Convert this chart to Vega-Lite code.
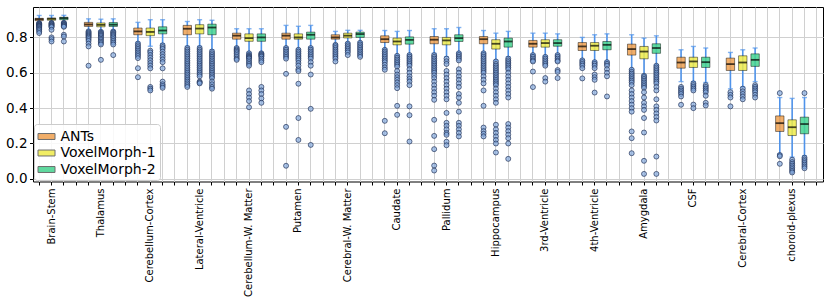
{
"$schema": "https://vega.github.io/schema/vega-lite/v6.json",
"width": 790,
"height": 174.5,
"autosize": "none",
"padding": {"left": 33, "top": 7, "right": 7, "bottom": 120.5},
"config": {
  "font": "DejaVu Sans",
  "view": {"stroke": "#000", "strokeWidth": 1},
  "axis": {"domain": false, "grid": true, "gridColor": "#d0d0d0", "gridWidth": 1, "tickColor": "#000", "tickSize": 3.5, "labelColor": "#000", "labelFont": "DejaVu Sans"}
},
"datasets": {"boxes": [
{"s":"Brain-Stem","m":"ANTs","lo":0.884,"q1":0.895,"med":0.903,"q3":0.908,"hi":0.924,"o":[0.881,0.878,0.875,0.872,0.868,0.865,0.862,0.858,0.853,0.848,0.843,0.835,0.825]},
{"s":"Brain-Stem","m":"VoxelMorph-1","lo":0.885,"q1":0.897,"med":0.905,"q3":0.91,"hi":0.924,"o":[0.882,0.878,0.874,0.87,0.866,0.862,0.858,0.843,0.8,0.79,0.777]},
{"s":"Brain-Stem","m":"VoxelMorph-2","lo":0.886,"q1":0.9,"med":0.909,"q3":0.914,"hi":0.925,"o":[0.883,0.879,0.875,0.871,0.867,0.863,0.86,0.815,0.805,0.777]},
{"s":"Thalamus","m":"ANTs","lo":0.84,"q1":0.862,"med":0.873,"q3":0.885,"hi":0.905,"o":[0.834,0.828,0.822,0.816,0.81,0.804,0.798,0.79,0.78,0.765,0.749,0.64]},
{"s":"Thalamus","m":"VoxelMorph-1","lo":0.838,"q1":0.86,"med":0.871,"q3":0.882,"hi":0.903,"o":[0.832,0.826,0.82,0.814,0.808,0.8,0.792,0.785,0.776,0.768,0.76,0.673]},
{"s":"Thalamus","m":"VoxelMorph-2","lo":0.84,"q1":0.862,"med":0.872,"q3":0.884,"hi":0.905,"o":[0.833,0.827,0.82,0.814,0.807,0.8,0.79,0.78,0.77,0.76,0.7]},
{"s":"Cerebellum-Cortex","m":"ANTs","lo":0.772,"q1":0.815,"med":0.834,"q3":0.853,"hi":0.885,"o":[0.765,0.755,0.745,0.735,0.725,0.715,0.705,0.695,0.683,0.626,0.575]},
{"s":"Cerebellum-Cortex","m":"VoxelMorph-1","lo":0.75,"q1":0.81,"med":0.831,"q3":0.853,"hi":0.9,"o":[0.725,0.715,0.7,0.685,0.67,0.655,0.64,0.625,0.52,0.51,0.5]},
{"s":"Cerebellum-Cortex","m":"VoxelMorph-2","lo":0.765,"q1":0.82,"med":0.839,"q3":0.86,"hi":0.9,"o":[0.755,0.745,0.735,0.72,0.705,0.69,0.675,0.66,0.625,0.55,0.535,0.525,0.515]},
{"s":"Lateral-Ventricle","m":"ANTs","lo":0.75,"q1":0.815,"med":0.849,"q3":0.868,"hi":0.89,"o":[0.74,0.73,0.72,0.71,0.7,0.69,0.68,0.67,0.66,0.65,0.64,0.63,0.62,0.61,0.6,0.59,0.58,0.57,0.56,0.55,0.54,0.53,0.52]},
{"s":"Lateral-Ventricle","m":"VoxelMorph-1","lo":0.75,"q1":0.82,"med":0.85,"q3":0.872,"hi":0.9,"o":[0.74,0.73,0.72,0.71,0.7,0.69,0.68,0.67,0.66,0.65,0.64,0.63,0.62,0.61,0.6,0.59,0.58,0.55,0.545,0.54]},
{"s":"Lateral-Ventricle","m":"VoxelMorph-2","lo":0.73,"q1":0.815,"med":0.856,"q3":0.875,"hi":0.897,"o":[0.72,0.71,0.7,0.69,0.68,0.67,0.66,0.65,0.64,0.63,0.62,0.61,0.6,0.59,0.58,0.57,0.55,0.535,0.52,0.51]},
{"s":"Cerebellum-W. Matter","m":"ANTs","lo":0.745,"q1":0.79,"med":0.81,"q3":0.824,"hi":0.849,"o":[0.74,0.732,0.725,0.718,0.71,0.7,0.69,0.68,0.673]},
{"s":"Cerebellum-W. Matter","m":"VoxelMorph-1","lo":0.715,"q1":0.778,"med":0.796,"q3":0.82,"hi":0.849,"o":[0.71,0.7,0.695,0.69,0.685,0.68,0.67,0.66,0.65,0.64,0.5,0.48,0.46,0.44,0.405]},
{"s":"Cerebellum-W. Matter","m":"VoxelMorph-2","lo":0.715,"q1":0.778,"med":0.8,"q3":0.82,"hi":0.849,"o":[0.71,0.705,0.7,0.695,0.69,0.68,0.67,0.66,0.52,0.5,0.48,0.455,0.43]},
{"s":"Putamen","m":"ANTs","lo":0.745,"q1":0.79,"med":0.81,"q3":0.824,"hi":0.868,"o":[0.74,0.73,0.72,0.71,0.7,0.69,0.68,0.594,0.294,0.074]},
{"s":"Putamen","m":"VoxelMorph-1","lo":0.735,"q1":0.79,"med":0.8,"q3":0.82,"hi":0.863,"o":[0.73,0.72,0.71,0.7,0.69,0.68,0.67,0.655,0.64,0.62,0.61,0.538,0.344,0.22]},
{"s":"Putamen","m":"VoxelMorph-2","lo":0.745,"q1":0.79,"med":0.815,"q3":0.83,"hi":0.868,"o":[0.74,0.73,0.72,0.71,0.7,0.69,0.68,0.66,0.64,0.59,0.396,0.192]},
{"s":"Cerebral-W. Matter","m":"ANTs","lo":0.762,"q1":0.79,"med":0.8,"q3":0.815,"hi":0.834,"o":[0.758,0.75,0.74,0.73,0.72,0.71,0.7,0.69,0.68,0.664]},
{"s":"Cerebral-W. Matter","m":"VoxelMorph-1","lo":0.77,"q1":0.797,"med":0.81,"q3":0.824,"hi":0.84,"o":[0.765,0.755,0.745,0.735,0.725,0.715,0.7]},
{"s":"Cerebral-W. Matter","m":"VoxelMorph-2","lo":0.775,"q1":0.8,"med":0.819,"q3":0.83,"hi":0.84,"o":[0.77,0.76,0.75,0.74,0.73,0.72,0.71,0.7,0.69]},
{"s":"Caudate","m":"ANTs","lo":0.735,"q1":0.771,"med":0.79,"q3":0.809,"hi":0.839,"o":[0.73,0.72,0.71,0.7,0.69,0.68,0.67,0.66,0.645,0.63,0.617,0.328,0.258]},
{"s":"Caudate","m":"VoxelMorph-1","lo":0.7,"q1":0.758,"med":0.777,"q3":0.796,"hi":0.834,"o":[0.696,0.685,0.675,0.665,0.655,0.645,0.635,0.61,0.59,0.575,0.56,0.545,0.53,0.513,0.413,0.362]},
{"s":"Caudate","m":"VoxelMorph-2","lo":0.705,"q1":0.762,"med":0.786,"q3":0.803,"hi":0.839,"o":[0.7,0.69,0.68,0.67,0.66,0.65,0.64,0.62,0.6,0.58,0.565,0.55,0.53,0.41,0.36,0.211]},
{"s":"Pallidum","m":"ANTs","lo":0.71,"q1":0.764,"med":0.787,"q3":0.805,"hi":0.849,"o":[0.7,0.69,0.68,0.67,0.66,0.65,0.64,0.63,0.62,0.61,0.6,0.585,0.57,0.55,0.53,0.51,0.49,0.47,0.447,0.334,0.243,0.168,0.075,0.047]},
{"s":"Pallidum","m":"VoxelMorph-1","lo":0.69,"q1":0.758,"med":0.783,"q3":0.8,"hi":0.849,"o":[0.68,0.665,0.65,0.61,0.59,0.57,0.55,0.53,0.51,0.49,0.47,0.45,0.373,0.317,0.3,0.28,0.26,0.249,0.21,0.19]},
{"s":"Pallidum","m":"VoxelMorph-2","lo":0.715,"q1":0.777,"med":0.796,"q3":0.815,"hi":0.856,"o":[0.71,0.7,0.69,0.68,0.67,0.62,0.6,0.58,0.56,0.54,0.52,0.48,0.46,0.43,0.38,0.317,0.3,0.28,0.26,0.24]},
{"s":"Hippocampus","m":"ANTs","lo":0.715,"q1":0.764,"med":0.79,"q3":0.805,"hi":0.839,"o":[0.71,0.7,0.69,0.68,0.67,0.66,0.65,0.64,0.63,0.62,0.61,0.6,0.58,0.56,0.54,0.5,0.413,0.29,0.27,0.255,0.24]},
{"s":"Hippocampus","m":"VoxelMorph-1","lo":0.67,"q1":0.734,"med":0.764,"q3":0.787,"hi":0.824,"o":[0.664,0.65,0.64,0.63,0.62,0.61,0.6,0.59,0.58,0.57,0.56,0.55,0.54,0.53,0.51,0.49,0.47,0.45,0.43,0.306,0.28,0.26,0.24,0.22,0.2,0.149]},
{"s":"Hippocampus","m":"VoxelMorph-2","lo":0.69,"q1":0.745,"med":0.777,"q3":0.796,"hi":0.834,"o":[0.68,0.67,0.66,0.65,0.64,0.63,0.62,0.6,0.58,0.56,0.54,0.52,0.5,0.48,0.46,0.31,0.29,0.27,0.25,0.23,0.2,0.113]},
{"s":"3rd-Ventricle","m":"ANTs","lo":0.705,"q1":0.745,"med":0.764,"q3":0.783,"hi":0.824,"o":[0.7,0.69,0.68,0.67,0.664,0.607,0.519]},
{"s":"3rd-Ventricle","m":"VoxelMorph-1","lo":0.695,"q1":0.745,"med":0.768,"q3":0.787,"hi":0.824,"o":[0.69,0.68,0.67,0.66,0.65,0.64,0.57,0.55]},
{"s":"3rd-Ventricle","m":"VoxelMorph-2","lo":0.705,"q1":0.75,"med":0.768,"q3":0.787,"hi":0.82,"o":[0.7,0.69,0.68,0.67,0.664,0.615,0.605,0.57]},
{"s":"4th-Ventricle","m":"ANTs","lo":0.675,"q1":0.726,"med":0.749,"q3":0.771,"hi":0.8,"o":[0.67,0.66,0.65,0.64,0.626,0.568]},
{"s":"4th-Ventricle","m":"VoxelMorph-1","lo":0.665,"q1":0.726,"med":0.753,"q3":0.771,"hi":0.815,"o":[0.66,0.65,0.64,0.626,0.59,0.575,0.56,0.488]},
{"s":"4th-Ventricle","m":"VoxelMorph-2","lo":0.665,"q1":0.73,"med":0.758,"q3":0.777,"hi":0.82,"o":[0.66,0.65,0.64,0.62,0.6,0.58,0.466]},
{"s":"Amygdala","m":"ANTs","lo":0.62,"q1":0.7,"med":0.734,"q3":0.762,"hi":0.815,"o":[0.617,0.605,0.595,0.585,0.575,0.565,0.555,0.545,0.53,0.5,0.48,0.46,0.44,0.42,0.4,0.38,0.268,0.23,0.145]},
{"s":"Amygdala","m":"VoxelMorph-1","lo":0.59,"q1":0.679,"med":0.72,"q3":0.749,"hi":0.796,"o":[0.583,0.575,0.565,0.555,0.545,0.535,0.525,0.515,0.49,0.46,0.43,0.41,0.39,0.344,0.262,0.102,0.028]},
{"s":"Amygdala","m":"VoxelMorph-2","lo":0.645,"q1":0.71,"med":0.74,"q3":0.764,"hi":0.809,"o":[0.64,0.63,0.62,0.61,0.6,0.59,0.58,0.57,0.56,0.55,0.54,0.52,0.5,0.45,0.41,0.39,0.37,0.35,0.33,0.126,0.028]},
{"s":"CSF","m":"ANTs","lo":0.55,"q1":0.626,"med":0.658,"q3":0.688,"hi":0.73,"o":[0.52,0.51,0.5,0.49,0.48,0.466,0.419]},
{"s":"CSF","m":"VoxelMorph-1","lo":0.55,"q1":0.63,"med":0.664,"q3":0.688,"hi":0.749,"o":[0.54,0.53,0.52,0.51,0.5,0.42,0.4]},
{"s":"CSF","m":"VoxelMorph-2","lo":0.545,"q1":0.63,"med":0.66,"q3":0.688,"hi":0.74,"o":[0.53,0.52,0.51,0.5,0.49,0.47,0.43,0.415]},
{"s":"Cerebral-Cortex","m":"ANTs","lo":0.509,"q1":0.613,"med":0.649,"q3":0.683,"hi":0.715,"o":[0.49,0.475,0.46,0.41]},
{"s":"Cerebral-Cortex","m":"VoxelMorph-1","lo":0.519,"q1":0.613,"med":0.658,"q3":0.696,"hi":0.73,"o":[0.51,0.495,0.48,0.465,0.45]},
{"s":"Cerebral-Cortex","m":"VoxelMorph-2","lo":0.55,"q1":0.636,"med":0.673,"q3":0.707,"hi":0.74,"o":[0.53,0.52,0.51,0.5,0.49,0.475,0.46]},
{"s":"choroid-plexus","m":"ANTs","lo":0.141,"q1":0.268,"med":0.315,"q3":0.356,"hi":0.46,"o":[0.485,0.135,0.128,0.085]},
{"s":"choroid-plexus","m":"VoxelMorph-1","lo":0.123,"q1":0.245,"med":0.292,"q3":0.334,"hi":0.455,"o":[0.108,0.095,0.085,0.075,0.065,0.055,0.045,0.036]},
{"s":"choroid-plexus","m":"VoxelMorph-2","lo":0.13,"q1":0.255,"med":0.31,"q3":0.349,"hi":0.46,"o":[0.485,0.12,0.11,0.1,0.09,0.08,0.07,0.06]}
]},
"data": {"name": "boxes"},
"transform": [{"calculate": "datum.s + '|' + datum.m", "as": "k"}],
"encoding": {
  "x": {"field": "k", "type": "nominal", "title": null,
    "scale": {"paddingInner": 0, "paddingOuter": 0, "domain": [
      "Brain-Stem|ANTs","Brain-Stem|VoxelMorph-1","Brain-Stem|VoxelMorph-2","Brain-Stem|gap",
      "Thalamus|ANTs","Thalamus|VoxelMorph-1","Thalamus|VoxelMorph-2","Thalamus|gap",
      "Cerebellum-Cortex|ANTs","Cerebellum-Cortex|VoxelMorph-1","Cerebellum-Cortex|VoxelMorph-2","Cerebellum-Cortex|gap",
      "Lateral-Ventricle|ANTs","Lateral-Ventricle|VoxelMorph-1","Lateral-Ventricle|VoxelMorph-2","Lateral-Ventricle|gap",
      "Cerebellum-W. Matter|ANTs","Cerebellum-W. Matter|VoxelMorph-1","Cerebellum-W. Matter|VoxelMorph-2","Cerebellum-W. Matter|gap",
      "Putamen|ANTs","Putamen|VoxelMorph-1","Putamen|VoxelMorph-2","Putamen|gap",
      "Cerebral-W. Matter|ANTs","Cerebral-W. Matter|VoxelMorph-1","Cerebral-W. Matter|VoxelMorph-2","Cerebral-W. Matter|gap",
      "Caudate|ANTs","Caudate|VoxelMorph-1","Caudate|VoxelMorph-2","Caudate|gap",
      "Pallidum|ANTs","Pallidum|VoxelMorph-1","Pallidum|VoxelMorph-2","Pallidum|gap",
      "Hippocampus|ANTs","Hippocampus|VoxelMorph-1","Hippocampus|VoxelMorph-2","Hippocampus|gap",
      "3rd-Ventricle|ANTs","3rd-Ventricle|VoxelMorph-1","3rd-Ventricle|VoxelMorph-2","3rd-Ventricle|gap",
      "4th-Ventricle|ANTs","4th-Ventricle|VoxelMorph-1","4th-Ventricle|VoxelMorph-2","4th-Ventricle|gap",
      "Amygdala|ANTs","Amygdala|VoxelMorph-1","Amygdala|VoxelMorph-2","Amygdala|gap",
      "CSF|ANTs","CSF|VoxelMorph-1","CSF|VoxelMorph-2","CSF|gap",
      "Cerebral-Cortex|ANTs","Cerebral-Cortex|VoxelMorph-1","Cerebral-Cortex|VoxelMorph-2","Cerebral-Cortex|gap",
      "choroid-plexus|ANTs","choroid-plexus|VoxelMorph-1","choroid-plexus|VoxelMorph-2","choroid-plexus|gap"
    ]},
    "axis": {"labelExpr": "indexof(datum.value, '|VoxelMorph-1') >= 0 ? split(datum.value, '|')[0] : ''",
      "labelAngle": 270, "labelAlign": "right", "labelBaseline": "middle", "labelFontSize": 10,
      "labelPadding": 3, "labelOverlap": false, "labelLimit": 0, "labelBound": false}
  }
},
"layer": [
  {"mark": {"type": "rule", "color": "#4f93ea", "strokeWidth": 1.6},
   "encoding": {
     "y": {"field": "lo", "type": "quantitative", "title": null,
       "scale": {"domain": [-0.015, 0.972], "nice": false, "zero": false},
       "axis": {"values": [0, 0.2, 0.4, 0.6, 0.8], "format": ".1f", "labelFontSize": 13.5, "labelPadding": 2.5}},
     "y2": {"field": "hi"}}},
  {"mark": {"type": "tick", "color": "#4f93ea", "size": 5, "thickness": 1.4},
   "encoding": {"y": {"field": "hi", "type": "quantitative", "title": null}}},
  {"mark": {"type": "tick", "color": "#4f93ea", "size": 5, "thickness": 1.4},
   "encoding": {"y": {"field": "lo", "type": "quantitative", "title": null}}},
  {"mark": {"type": "bar", "width": {"band": 0.68}, "fillOpacity": 0.85, "stroke": "#000", "strokeOpacity": 0.45, "strokeWidth": 1},
   "encoding": {
     "y": {"field": "q1", "type": "quantitative", "title": null},
     "y2": {"field": "q3"},
     "color": {"field": "m", "type": "nominal",
       "scale": {"domain": ["ANTs", "VoxelMorph-1", "VoxelMorph-2"], "range": ["#f0a150", "#efeb4a", "#45d38f"]},
       "legend": {"title": null, "orient": "none", "legendX": 1, "legendY": 117,
         "symbolType": "M-1,-0.35H1V0.35H-1Z", "symbolSize": 289, "symbolStrokeColor": "#555", "symbolStrokeWidth": 1,
         "symbolOpacity": 0.85, "labelFontSize": 14, "labelFont": "DejaVu Sans", "labelColor": "#000",
         "strokeColor": "#cccccc", "fillColor": "rgba(255,255,255,0.85)", "padding": 3.5, "cornerRadius": 3,
         "rowPadding": 0.5, "labelOffset": 5}}}},
  {"mark": {"type": "tick", "color": "#000", "size": 8.5, "thickness": 1.8},
   "encoding": {"y": {"field": "med", "type": "quantitative", "title": null}}},
  {"transform": [{"flatten": ["o"], "as": ["v"]}],
   "mark": {"type": "point", "shape": "circle", "filled": true, "size": 25, "fill": "#7ea6dd", "fillOpacity": 0.65, "stroke": "#1f2f55", "strokeOpacity": 0.85, "strokeWidth": 0.8},
   "encoding": {"y": {"field": "v", "type": "quantitative", "title": null}}}
]
}
